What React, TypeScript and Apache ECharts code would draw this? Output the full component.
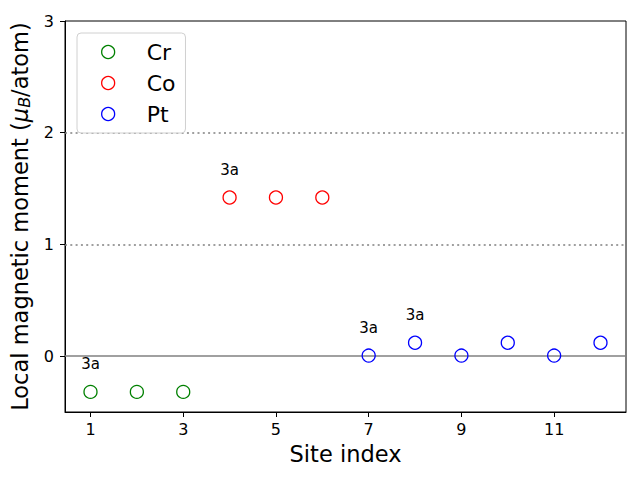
import React, { useEffect, useRef } from "react";
import * as echarts from "echarts";

const crSites = [1, 2, 3];
const crMoments = [-0.32, -0.32, -0.32];
const coSites = [4, 5, 6];
const coMoments = [1.42, 1.42, 1.42];
const ptSites = [7, 8, 9, 10, 11, 12];
const ptMoments = [0.005, 0.12, 0.005, 0.12, 0.005, 0.12];
const annotatedSites = [1, 4, 7, 8];
const annotationText = "3a";
const xTicks = [1, 3, 5, 7, 9, 11];
const yTicks = [0, 1, 2, 3];

const FONT = "DejaVu Sans";

function buildData(sites: number[], vals: number[]) {
  return sites.map((s, i) => {
    const item: any = { value: [s, vals[i]] };
    if (annotatedSites.includes(s)) {
      item.label = {
        show: true,
        formatter: annotationText,
        position: "top",
        distance: 13,
        fontFamily: FONT,
        fontSize: 15,
        color: "#000",
      };
    }
    return item;
  });
}

export default function App() {
  const ref = useRef<HTMLDivElement>(null);
  useEffect(() => {
    if (!ref.current) return;
    const chart = echarts.init(ref.current, null, { renderer: "svg" });
    const mkSeries = (name: string, color: string, sites: number[], vals: number[], extra: any = {}) => ({
      name,
      type: "scatter",
      symbol: "circle",
      symbolSize: 13,
      itemStyle: { color: "rgba(255,255,255,0)", borderColor: color, borderWidth: 1.3, opacity: 1 },
      data: buildData(sites, vals),
      z: 5,
      ...extra,
    });
    chart.setOption({
      animation: false,
      backgroundColor: "#fff",
      textStyle: { fontFamily: FONT },
      grid: {
        left: 65,
        right: 14,
        top: 21,
        bottom: 68,
        show: true,
        borderColor: "#000",
        borderWidth: 1,
        backgroundColor: "transparent",
      },
      legend: {
        orient: "vertical",
        left: 77,
        top: 33,
        padding: [8, 10, 8, 24],
        itemWidth: 13,
        itemHeight: 13,
        itemGap: 9,
        itemStyle: { borderWidth: 1.3 },
        borderColor: "#d0d0d0",
        borderWidth: 1,
        borderRadius: 4,
        backgroundColor: "rgba(255,255,255,0.8)",
        textStyle: {
          fontFamily: FONT,
          fontSize: 22,
          color: "#000",
          lineHeight: 22,
          padding: [0, 0, 0, 27],
        },
        data: ["Cr", "Co", "Pt"],
      },
      xAxis: {
        type: "value",
        min: 0.45,
        max: 12.55,
        name: "Site index",
        nameLocation: "middle",
        nameGap: 30,
        nameTextStyle: { fontFamily: FONT, fontSize: 22.5, color: "#000" },
        splitLine: { show: false },
        axisLine: { onZero: false, lineStyle: { color: "#000", width: 1 } },
        axisTick: { show: true, inside: false, length: 5, lineStyle: { color: "#000" }, customValues: xTicks },
        axisLabel: { fontFamily: FONT, fontSize: 16, color: "#000", margin: 9, customValues: xTicks },
      },
      yAxis: {
        type: "value",
        min: -0.5,
        max: 3,
        name: "Local magnetic moment ({i|μ}{sub|B}/atom)",
        nameLocation: "middle",
        nameGap: 33,
        nameRotate: 90,
        nameTextStyle: {
          fontFamily: FONT,
          fontSize: 22.5,
          color: "#000",
          rich: {
            i: { fontFamily: FONT, fontSize: 22.5, fontStyle: "italic", color: "#000" },
            sub: { fontFamily: FONT, fontSize: 16, fontStyle: "italic", color: "#000", verticalAlign: "bottom", padding: [8, 0, 0, 0] },
          },
        },
        splitLine: { show: false },
        axisLine: { onZero: false, lineStyle: { color: "#000", width: 1 } },
        axisTick: { show: true, inside: false, length: 5, lineStyle: { color: "#000" }, customValues: yTicks },
        axisLabel: { fontFamily: FONT, fontSize: 16, color: "#000", margin: 11, customValues: yTicks },
      },
      series: [
        mkSeries("Cr", "#008000", crSites, crMoments, {
          markLine: {
            silent: true,
            symbol: "none",
            label: { show: false },
            z: 1,
            data: [
              { yAxis: 0, lineStyle: { color: "#808080", width: 1.5, type: "solid" } },
              { yAxis: 1, lineStyle: { color: "#808080", width: 1.5, type: [2, 3.3] } },
              { yAxis: 2, lineStyle: { color: "#808080", width: 1.5, type: [2, 3.3] } },
            ],
          },
        }),
        mkSeries("Co", "#ff0000", coSites, coMoments),
        mkSeries("Pt", "#0000ff", ptSites, ptMoments),
      ],
    });
    return () => chart.dispose();
  }, []);
  return <div ref={ref} style={{ width: 640, height: 480, position: "absolute", left: 0, top: 0 }} />;
}
